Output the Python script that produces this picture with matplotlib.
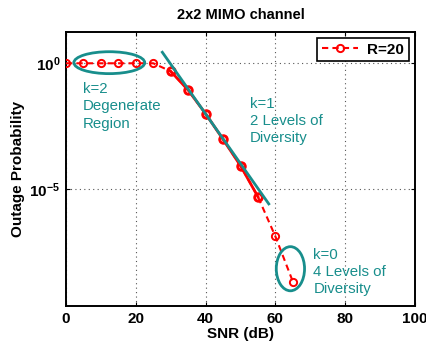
import numpy as np
import matplotlib
matplotlib.use('Agg')
import matplotlib.pyplot as plt
from matplotlib.patches import Ellipse

plt.rcParams['font.family'] = ['Liberation Sans', 'DejaVu Sans']
plt.rcParams['mathtext.fontset'] = 'custom'
plt.rcParams['mathtext.rm'] = 'Liberation Sans:bold'
plt.rcParams['mathtext.bf'] = 'Liberation Sans:bold'

# data
snr = [0, 5, 10, 15, 20, 25, 30, 35, 40, 45, 50, 55, 60, 65]
outage = [1.0, 1.0, 1.0, 1.0, 1.0, 1.0, 0.48, 0.085, 9.8e-3, 9.3e-4,
          8.3e-5, 4.8e-6, 1.26e-7, 2.0e-9]
# steep (k=1) part drawn solid
mid_snr = snr[6:12]
mid_out = outage[6:12]
# diversity-2 asymptote
fit_snr = [27.6, 58.1]
fit_out = [2.75, 2.5e-6]

xticks = [0, 20, 40, 60, 80, 100]
yticks = [1e-5, 1e0]
ytick_labels = [r'$\mathbf{10^{-5}}$', r'$\mathbf{10^{0}}$']

teal = '#188e8c'
red = '#ff0000'
fs = 11

fig = plt.figure(figsize=(4.27, 3.48), dpi=100)
ax = fig.add_axes([0.1546, 0.1207, 0.8173, 0.7874])

ax.semilogy(snr, outage, color=red, lw=1.5, dashes=(3, 2), marker='o',
            ms=5.2, mfc='none', mec=red, mew=1.4, label='R=20', zorder=3)
ax.semilogy(mid_snr, mid_out, color=red, lw=2, marker='o', ms=5.5,
            mfc='none', mec=red, mew=2, zorder=3)
ax.semilogy(fit_snr, fit_out, color=teal, lw=2, zorder=4)

ax.set_xlim(0, 100)
ax.set_ylim(10**-9.67, 10**1.247)
ax.set_xticks(xticks)
ax.set_yticks(yticks)
ax.set_yticklabels(ytick_labels)
ax.yaxis.set_minor_locator(matplotlib.ticker.NullLocator())
ax.grid(True, which='major', ls=(0, (1, 3)), color='#555555', lw=0.8)
ax.tick_params(direction='in', top=True, right=True, length=3, labelsize=fs,
               pad=4)
for lab in ax.get_xticklabels():
    lab.set_fontweight('bold')
for s in ax.spines.values():
    s.set_linewidth(1.4)

ax.set_title('2x2 MIMO channel', fontsize=10.5, fontweight='bold', pad=9)
ax.set_xlabel('SNR (dB)', fontsize=fs, fontweight='bold', labelpad=1)
ax.set_ylabel('Outage Probability', fontsize=fs, fontweight='bold', labelpad=3)

# annotations
ax.add_patch(Ellipse((0.124, 0.888), 0.203, 0.080, transform=ax.transAxes,
                     fill=False, ec=teal, lw=2, zorder=5))
ax.add_patch(Ellipse((0.643, 0.136), 0.081, 0.161, transform=ax.transAxes,
                     fill=False, ec=teal, lw=2, zorder=5))
ax.text(0.049, 0.818, 'k=2\nDegenerate\nRegion', transform=ax.transAxes,
        color=teal, fontsize=10.8, va='top', linespacing=1.33)
ax.text(0.527, 0.763, 'k=1\n2 Levels of\nDiversity', transform=ax.transAxes,
        color=teal, fontsize=10.8, va='top', linespacing=1.28)
ax.text(0.709, 0.213, 'k=0\n4 Levels of\nDiversity', transform=ax.transAxes,
        color=teal, fontsize=10.8, va='top', linespacing=1.28)

leg = ax.legend(loc='upper right', fancybox=False, framealpha=1,
                edgecolor='black', prop={'weight': 'bold', 'size': 11},
                handlelength=2.4, borderaxespad=0.4, borderpad=0.3,
                handletextpad=0.6)
leg.get_frame().set_linewidth(1.2)

fig.savefig('out.png', dpi=100)
